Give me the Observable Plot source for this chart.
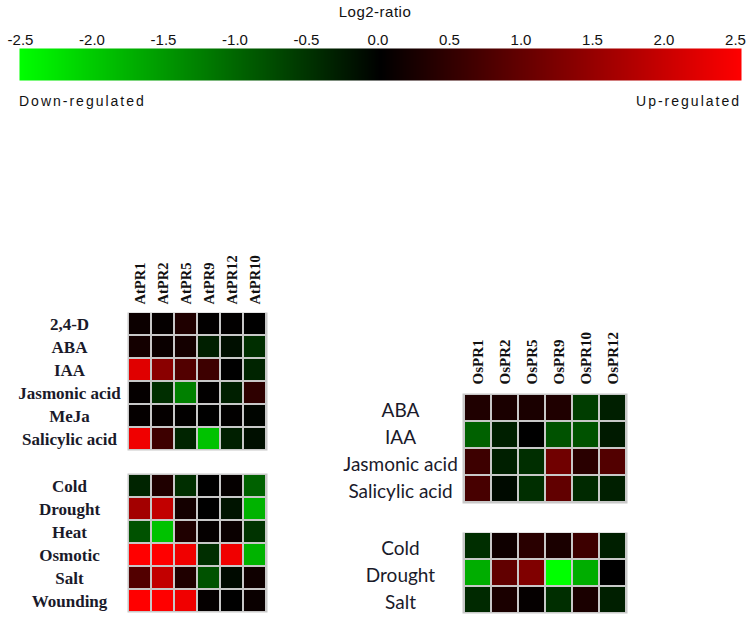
<!DOCTYPE html>
<html><head><meta charset="utf-8">
<script src="https://cdn.jsdelivr.net/npm/d3@7"></script>
<script src="https://cdn.jsdelivr.net/npm/@observablehq/plot@0.6"></script>
<style>
body{margin:0;background:#fff;}
#root{position:relative;width:750px;height:631px;overflow:hidden;background:#fff;}
.abs{position:absolute;}
.lg{font-family:"Liberation Sans",Arial,sans-serif;color:#111;white-space:nowrap;}
</style></head><body><div id="root"></div>
<script>
// ---- data ----
const legendTicks = [-2.5, -2, -1.5, -1, -0.5, 0, 0.5, 1, 1.5, 2, 2.5];

const atGenes = ["AtPR1", "AtPR2", "AtPR5", "AtPR9", "AtPR12", "AtPR10"];
const atHormones = ["2,4-D", "ABA", "IAA", "Jasmonic acid", "MeJa", "Salicylic acid"];
const atHormoneValues = [
  [0.12, 0.05, 0.3, 0.02, 0.02, 0.0],
  [0.2, 0.1, 0.2, -0.3, -0.15, -0.45],
  [2.2, 1.35, 0.8, 0.6, 0.0, -0.35],
  [0.05, -0.45, -1.25, 0.02, -0.3, 0.45],
  [0.05, 0.05, 0.02, 0.0, 0.02, -0.05],
  [2.35, 0.6, -0.35, -1.9, -0.3, -0.15]
];
const atStresses = ["Cold", "Drought", "Heat", "Osmotic", "Salt", "Wounding"];
const atStressValues = [
  [-0.35, 0.3, -0.45, 0.0, 0.05, -0.95],
  [1.6, 1.9, 0.2, 0.0, -0.2, -1.75],
  [-0.8, -1.9, 0.3, 0.05, 0.1, -0.5],
  [2.5, 2.5, 2.35, -0.45, 2.35, -1.75],
  [0.8, 1.9, 0.3, -0.8, -0.1, 0.15],
  [2.5, 2.5, 2.35, 0.05, 0.0, 0.1]
];

const osGenes = ["OsPR1", "OsPR2", "OsPR5", "OsPR9", "OsPR10", "OsPR12"];
const osHormones = ["ABA", "IAA", "Jasmonic acid", "Salicylic acid"];
const osHormoneValues = [
  [0.3, 0.25, 0.25, 0.3, -0.6, -0.3],
  [-0.95, -0.3, 0.0, -0.8, -0.8, -0.25],
  [0.6, -0.3, -0.45, 1.1, 0.4, 0.8],
  [0.7, -0.1, -0.45, 0.95, -0.4, -0.3]
];
const osStresses = ["Cold", "Drought", "Salt"];
const osStressValues = [
  [-0.45, 0.15, 0.4, 0.25, 0.6, -0.3],
  [-1.7, 0.95, 1.25, -2.5, -1.7, 0.0],
  [-0.4, 0.25, 0.05, -0.45, 0.25, -0.3]
];

// ---- shared colour scale ----
const colorScale = {type: "linear", domain: [-2.5, 0, 2.5], range: ["#00ff00", "#000000", "#ff0000"], interpolate: "rgb", clamp: true};

const root = document.getElementById("root");
function place(node, left, top) {
  node.classList.add("abs");
  node.style.left = left + "px";
  node.style.top = top + "px";
  root.appendChild(node);
  return node;
}
function htmlText(txt, css) {
  const d = document.createElement("div");
  d.className = "lg abs";
  d.textContent = txt;
  Object.assign(d.style, css);
  root.appendChild(d);
  return d;
}

// ---- colour bar legend (bar layer + tick layer) ----
const bar = Plot.plot({
  width: 750, height: 82,
  marginTop: 48, marginBottom: 2, marginLeft: 19, marginRight: 9,
  style: {background: "transparent"},
  x: {domain: [-2.5, 2.5], axis: null},
  y: {domain: [0, 1], axis: null},
  color: colorScale,
  marks: [
    Plot.raster({x1: -2.5, x2: 2.5, y1: 0, y2: 1, width: 722, height: 1, fill: (x, y) => x})
  ]
});
place(bar, 0, 0);
const tickLayer = Plot.plot({
  width: 750, height: 50,
  marginTop: 48, marginBottom: 0, marginLeft: 20, marginRight: 15,
  style: {background: "transparent"},
  x: {domain: [-2.5, 2.5]},
  marks: [
    Plot.axisX({anchor: "top", ticks: legendTicks, tickFormat: d => d.toFixed(1), tickSize: 0, tickPadding: 4, label: null,
      fontFamily: "Liberation Sans, Arial, sans-serif", fontSize: 15, fill: "#111", letterSpacing: 0.5})
  ]
});
place(tickLayer, 0, 0);
htmlText("Log2-ratio", {left: "0px", width: "750px", textAlign: "center", top: "3px", fontSize: "15px", letterSpacing: "0.5px"});
htmlText("Down-regulated", {left: "19px", top: "93px", fontSize: "14px", letterSpacing: "2px"});
htmlText("Up-regulated", {right: "9px", top: "93px", fontSize: "14px", letterSpacing: "2px"});

// ---- heat maps ----
function heatmap({genes, rows, values, cellW, cellH, marginLeft, marginTop, showGenes, rowFont, rowSize, rowWeight, rowPad, rowDy, colSize, colPad}) {
  const data = rows.flatMap((r, i) => genes.map((g, j) => ({row: r, gene: g, value: values[i][j]})));
  const marks = [
    Plot.frame({fill: "#c8c8c8"}),
    Plot.cell(data, {x: "gene", y: "row", fill: "value", inset: 1}),
    Plot.axisY({tickSize: 0, tickPadding: rowPad, textAnchor: "middle", dy: rowDy, label: null,
      fontFamily: rowFont, fontSize: rowSize, fontWeight: rowWeight, fill: "#1a1a2a"})
  ];
  if (showGenes) {
    marks.push(Plot.axisX({anchor: "top", tickSize: 0, tickPadding: colPad, tickRotate: -90, label: null,
      fontFamily: "Liberation Serif, Times New Roman, serif", fontSize: colSize, fontWeight: "bold", fill: "#111"}));
  }
  return Plot.plot({
    width: marginLeft + cellW * genes.length + 2,
    height: marginTop + cellH * rows.length + 2,
    marginLeft, marginTop, marginRight: 2, marginBottom: 2,
    style: {background: "transparent", overflow: "visible"},
    x: {domain: genes, padding: 0, axis: null},
    y: {domain: rows, padding: 0, axis: null},
    color: colorScale,
    marks
  });
}

const serifRows = {rowFont: "Liberation Serif, Times New Roman, serif", rowSize: 17, rowWeight: "bold", rowPad: 58, rowDy: 1};
place(heatmap({genes: atGenes, rows: atHormones, values: atHormoneValues, cellW: 140 / 6, cellH: 23,
  marginLeft: 127, marginTop: 62, showGenes: true, colSize: 14.5, colPad: 8, ...serifRows}), 0, 250);
place(heatmap({genes: atGenes, rows: atStresses, values: atStressValues, cellW: 140 / 6, cellH: 139 / 6,
  marginLeft: 127, marginTop: 2, showGenes: false, ...serifRows}), 0, 471);

const sansRows = {rowFont: "Lato, Open Sans, sans-serif", rowSize: 19, rowWeight: "normal", rowPad: 62, rowDy: 3};
place(heatmap({genes: osGenes, rows: osHormones, values: osHormoneValues, cellW: 27.5, cellH: 27.5,
  marginLeft: 132, marginTop: 80, showGenes: true, colSize: 15, colPad: 9, ...sansRows}), 330, 313);
place(heatmap({genes: osGenes, rows: osStresses, values: osStressValues, cellW: 27.5, cellH: 27,
  marginLeft: 132, marginTop: 2, showGenes: false, ...sansRows}), 330, 530);
</script></body></html>
